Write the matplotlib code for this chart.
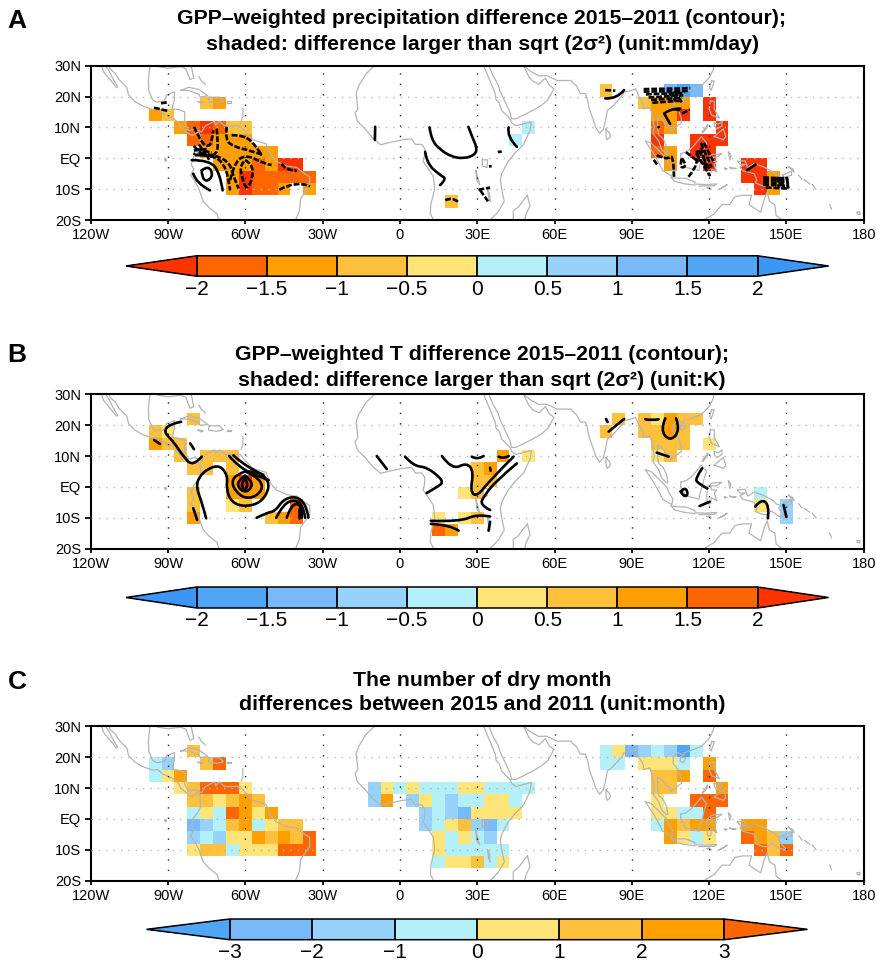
import numpy as np
import matplotlib as mpl
mpl.use('Agg')
import matplotlib.pyplot as plt
from matplotlib.path import Path
from matplotlib.patches import PathPatch
from matplotlib.colors import ListedColormap, BoundaryNorm
from matplotlib.cm import ScalarMappable

plt.rcParams['font.family'] = ['Liberation Sans', 'DejaVu Sans']

W, H = 876, 961

# colour classes, cold to warm end of the NCL style table
warm = ['#ff3300', '#ff6600', '#ff9f00', '#ffc03c', '#ffe578']
cool = ['#b4f0f8', '#96d2fa', '#78b9fa', '#50a5f5', '#3c96f5']

x_ticks = [-120, -90, -60, -30, 0, 30, 60, 90, 120, 150, 180]
x_labels = ['120W', '90W', '60W', '30W', '0', '30E', '60E', '90E', '120E', '150E', '180']
y_ticks = [30, 20, 10, 0, -10, -20]
y_labels = ['30N', '20N', '10N', 'EQ', '10S', '20S']

grid_lons = np.arange(-120, 181, 5)
grid_lats = np.arange(-18, 27, 4)

# (lat, first lon, values going east in 5 degree steps)
cells_a = [
    (22, 80, [-.75]), (22, 105, [1.25, 1.75, 1.25]),
    (18, -75, [-.75, -1.25]), (18, 95, [-.75, -1.25, -1.25, -1.25]), (18, 120, [-2.5]),
    (14, -95, [-1.25, -.75]), (14, 100, [-1.25, -1.25, -2.5]), (14, 120, [-2.5]),
    (10, -85, [-1.25, -1.75, -2.5, -1.75, -.75, -.75]), (10, 50, [.25]),
    (10, 100, [-1.75, -1.25]), (10, 125, [-2.5]),
    (6, -80, [-1.75, -1.75, -1.25, -1.25, -1.25]), (6, 45, [.25]),
    (6, 100, [-2.5]), (6, 115, [-2.5, -2.5, -2.5]),
    (2, -75, [-1.25, -1.25, -1.25, -1.25, -1.25, -1.25]),
    (2, 100, [-1.75, -1.25]), (2, 115, [-2.5, -2.5]),
    (-2, -70, [-1.25, -1.25, -1.25, -1.75, -1.25, -2.5, -2.5]),
    (-2, 105, [-1.25]), (-2, 120, [-2.5]), (-2, 135, [-2.5, -2.5]),
    (-6, -65, [-1.25, -2.5, -1.75, -1.75, -1.75, -1.75, -1.75]),
    (-6, 135, [-2.5, -2.5, -1.25]),
    (-10, -65, [-1.25, -2.5, -1.75, -1.75, -1.25]), (-10, -35, [-1.25]),
    (-10, 140, [-2.5, -1.25]),
    (-14, 20, [-.75]),
]

cells_b = [
    (22, -80, [.75]), (22, 85, [.75]), (22, 95, [.75, .25, 1.25, .75, .75]),
    (18, -95, [.75, .25]), (18, 80, [.75]), (18, 95, [.75, .75, 1.25, .75]),
    (14, -95, [1.25, .75, .75]), (14, 100, [.75, .75, .75]), (14, 120, [.25]),
    (10, -85, [.75]), (10, -75, [.75, .75, .75]), (10, 40, [1.25]), (10, 50, [.25]),
    (10, 100, [.25, .75]),
    (6, -80, [.75, .75]), (6, -65, [.75]), (6, 30, [.75, 1.25]),
    (2, -65, [1.25, 2.5, 1.25]), (2, 30, [.75, .75]),
    (-2, -80, [.75]), (-2, -65, [1.25, 1.25, 1.25]), (-2, 25, [.25, .75]),
    (-2, 140, [-.25]),
    (-6, -80, [.75]), (-6, -65, [.25, .75]), (-6, -40, [1.75]),
    (-6, 140, [.25]), (-6, 150, [-.75]),
    (-10, -80, [1.25]), (-10, -50, [.75, 1.25, 1.75]), (-10, 15, [.25]),
    (-10, 25, [.25, .75]), (-10, 150, [-.75]),
    (-14, 15, [1.75, 1.25]),
]

cells_c = [
    (22, -80, [1.5]),
    (22, 80, [-.5, .5, -2.5, -1.5, -.5, -1.5, -3.5, -.5]),
    (18, -95, [-.5, -1.5]), (18, -75, [1.5, 3.5]),
    (18, 80, [-.5, -.5]), (18, 95, [.5, .5, .5, -.5]), (18, 120, [2.5]),
    (14, -95, [-.5, .5, 2.5]), (14, 100, [1.5, 1.5, 2.5]), (14, 120, [3.5]),
    (10, -85, [.5, 1.5, 3.5, 3.5, 3.5, .5]),
    (10, -10, [-1.5, .5, -.5, .5, -.5, -.5, -.5, .5, .5, -.5, -.5, -.5, -.5]),
    (10, 100, [1.5, 1.5]), (10, 125, [2.5]),
    (6, -80, [1.5, 1.5, .5, 1.5, 2.5, 1.5]),
    (6, -10, [-1.5, 2.5]), (6, 5, [-1.5, .5, -.5, -1.5, -.5, -.5, .5, .5, -.5]),
    (6, 100, [.5]), (6, 115, [3.5, 3.5, 3.5]),
    (2, -80, [-.5, .5, -.5, 3.5, 2.5, .5, 2.5]),
    (2, 10, [-1.5, -.5, -1.5, -2.5, .5, .5, .5, .5]),
    (2, 100, [.5, .5, -.5, -.5]), (2, 120, [3.5]),
    (-2, -80, [-2.5, -1.5, -.5, 1.5, 2.5, -.5, .5, 1.5, 1.5]),
    (-2, 10, [-1.5, -.5, .5, 1.5, -1.5, -2.5, -.5]),
    (-2, 100, [-.5, 2.5, 1.5, 2.5, 2.5]), (-2, 135, [2.5, 2.5]),
    (-6, -80, [-1.5, -.5, -1.5, .5, .5, 2.5, 1.5, 2.5, 1.5, 3.5]),
    (-6, 15, [.5, -.5, .5, -.5, -1.5]),
    (-6, 105, [2.5, .5, -.5, .5]), (-6, 135, [3.5, 2.5, 1.5, -1.5]),
    (-10, -80, [.5, 1.5, 1.5, -.5, .5, .5, .5, 3.5, 3.5, 3.5]),
    (-10, 15, [.5, -.5, -.5, -.5, -.5, -.5]),
    (-10, 140, [3.5, 1.5, 3.5]),
    (-14, 15, [-.5, .5, .5, 1.5, -.5, .5]),
]

# coastlines, lon/lat
coast_baja = [(-116, 30.5), (-115, 28), (-114, 27), (-112, 25), (-110, 22.9), (-109.5, 23.2),
              (-110.5, 24.5), (-111.5, 26), (-113, 28.5), (-114.7, 30.5)]
coast_pacific = [(-113, 31.5), (-112.5, 29), (-110.5, 27.5), (-109, 25.5), (-106, 23), (-105.3, 20.5),
                 (-103, 18.5), (-100, 17), (-96, 15.8), (-94, 16), (-92, 14.5), (-90, 13.8), (-88, 13),
                 (-86, 11.5), (-85, 10), (-83, 8.5), (-81, 7.5), (-80, 7.5), (-78.5, 8.5), (-77.5, 7.5),
                 (-77.5, 6), (-77.3, 4), (-78.5, 2), (-80, 0.5), (-81, -2), (-80, -3.5), (-81.2, -5.5),
                 (-79.5, -7.5), (-78, -10), (-76.3, -14), (-74, -16), (-71, -18), (-70.2, -20)]
coast_atlantic = [(-97, 30), (-97.6, 25.5), (-97.5, 22), (-96, 19), (-94.5, 18.2), (-91.5, 18.5),
                  (-90.5, 20.5), (-87.5, 21.5), (-87.5, 19), (-88.5, 16), (-86, 15.8), (-83.5, 15),
                  (-83.5, 11), (-82, 9), (-79.5, 9.5), (-77, 8.5), (-75.5, 10.5), (-72, 12), (-71.5, 10.8),
                  (-70, 12), (-68, 10.5), (-64, 10.5), (-62, 10.5), (-60, 8.5), (-57, 6), (-52, 4.7),
                  (-50, 1), (-48, -1), (-44, -2.5), (-40, -3), (-37, -5), (-35, -6), (-35, -9),
                  (-38.5, -13), (-39, -17), (-40.5, -20)]
coast_florida = [(-94, 29.7), (-90, 29.2), (-85, 29.7), (-83, 29), (-81.5, 25.5), (-80, 26), (-81, 30)]
coast_cuba = [(-85, 22), (-82, 23), (-78, 22.3), (-74.5, 20.2), (-77.5, 19.9), (-78, 20.7), (-82, 22), (-85, 22)]
coast_hispaniola = [(-74, 19.8), (-70, 19.8), (-68.5, 18.5), (-71, 18), (-74.3, 18.4), (-74, 19.8)]
coast_jamaica = [(-78.3, 18.4), (-76.3, 18.2), (-77, 17.8), (-78.3, 18.4)]
coast_puerto = [(-67, 18.4), (-65.7, 18.4), (-65.7, 18), (-67, 18), (-67, 18.4)]
coast_antilles = [(-61, 16.3), (-60.9, 15), (-61, 13.5), (-61.6, 12.2)]
coast_bahamas = [(-78, 26.5), (-77, 25), (-75.5, 24)]
coast_galapagos = [(-91.3, -0.3), (-91, -1), (-90.5, -0.6), (-91.3, -0.3)]
coast_west_africa = [(-9.8, 30), (-13, 27.5), (-16, 23.5), (-17, 21), (-16.3, 16), (-17.4, 14.7), (-16.5, 12),
                     (-13.5, 9.5), (-10.5, 6.5), (-7.5, 4.4), (-3.5, 5.2), (1, 6), (4.5, 6.3), (6, 4.5),
                     (8.5, 4.5), (9.7, 3), (9.5, 0.5), (9, -1), (11.5, -4), (13, -6), (13.5, -10), (12, -15),
                     (11.8, -18), (14.5, -22)]
coast_east_africa = [(32.5, 30), (34, 27), (35.5, 24), (37, 21), (37.3, 19), (38.5, 18), (39.5, 15.5), (43, 12.5),
                     (43.3, 11.5), (45, 10.5), (51, 11.8), (50.5, 9), (48, 4.5), (45, 2), (42, -1), (39.5, -5),
                     (39, -7), (39.5, -10), (40.5, -14), (38, -17.5), (35, -20), (35, -22)]
coast_arabia = [(34.8, 29.5), (36, 27), (38, 24), (39, 21.5), (41, 18), (42.7, 15), (43.3, 12.8), (45, 12.8),
                (48, 14), (52, 15.7), (55, 17.2), (57.5, 19), (59.8, 22.5), (58, 23.7), (56.4, 26), (54, 24),
                (51.5, 25), (50, 26.5), (48, 30)]
coast_asia = [(48, 30), (51, 28), (54, 26.7), (57, 26.8), (61, 25.2), (66.5, 25.2), (67, 24.5), (68.5, 23.5),
              (70, 21), (72, 21), (72.8, 19), (73.5, 16), (74.8, 13), (76, 10), (77.5, 8), (79, 9.5), (80, 13),
              (80.5, 15.5), (82.5, 16.8), (86, 20), (87, 21.5), (89, 21.8), (91.5, 22.5), (92.5, 20.5),
              (94.5, 17.5), (94.5, 16), (97, 16.5), (98, 14), (98.7, 10), (98.3, 8), (100.5, 5.5), (101.5, 3),
              (103.5, 1.3), (104, 1.5), (103.5, 4), (102, 6.5), (100.5, 7.5), (100, 9.5), (100, 13.5),
              (102, 12.5), (103, 11), (105, 10), (105, 8.7), (106.5, 9.7), (109.2, 11.5), (109.2, 13),
              (108, 16), (106, 18), (106, 20), (108, 21.5), (110, 20.5), (110.5, 21.5), (114, 22.5),
              (117, 23.5), (120, 26), (121.5, 28.5), (122, 30)]
coast_srilanka = [(80, 9.5), (81.5, 8), (81.7, 7), (80.5, 6), (80, 7), (80, 9.5)]
coast_hainan = [(109, 20), (111, 19.8), (110, 18.3), (108.7, 18.7), (109, 20)]
coast_taiwan = [(121, 25), (122, 25), (120.8, 22), (120.2, 23), (121, 25)]
coast_luzon = [(120.5, 18.5), (122, 18.5), (122, 16), (124, 13), (121, 14), (120, 16), (120.5, 18.5)]
coast_mindanao = [(122, 7), (124, 8.5), (125.5, 9.5), (126.5, 7), (125.5, 6), (124, 6.5), (122, 7)]
coast_visayas = [(122, 11.5), (123.5, 11), (125, 12), (125, 10.5), (123, 9.5), (122, 10.5), (122, 11.5)]
coast_palawan = [(117.3, 8.5), (119.5, 11), (119.3, 10), (117.6, 8.3)]
coast_borneo = [(109, 1.5), (111, 2), (113, 3.2), (115, 5), (117, 7), (119, 5), (118, 2.5), (117.5, 0.5),
                (116.5, -2), (116, -4), (114, -3.5), (111, -3), (110, -1.5), (109, 0), (109, 1.5)]
coast_sumatra = [(95.3, 5.5), (97.5, 5), (100.5, 2.5), (103.5, 0), (104.5, -2), (106, -4), (105.5, -5.8), (104, -5),
                 (102, -4), (100.5, -1.5), (98.5, 1.5), (95.3, 5.5)]
coast_java = [(105.3, -6.2), (108.5, -6.5), (111, -6.5), (114.5, -7.7), (114.5, -8.7), (110, -8.2), (106.5, -7.4),
              (105.3, -6.2)]
coast_sulawesi = [(119.5, 0), (121, 1.2), (125, 1.5), (123, 0.4), (120.5, 0.3), (121, -1), (123, -1), (122, -2),
                  (123, -4.5), (121, -3.5), (120.5, -5.5), (119.5, -5.5), (119, -3), (119.5, 0)]
coast_sundas = [(115, -8.4), (119, -8.5), (123, -8.3), (122, -8.9), (116, -9)]
coast_timor = [(124, -10), (127, -8.5), (125.5, -9.5), (124, -10)]
coast_sumba = [(119.3, -9.6), (120.8, -10), (120, -9.4), (119.3, -9.6)]
coast_halmahera = [(127.5, 2), (128.5, 1), (128, -0.5), (127.7, 1), (127.5, 2)]
coast_seram = [(128, -3), (130.5, -3.3), (129, -3.4), (128, -3)]
coast_buru = [(126, -3.2), (127, -3.4), (126.3, -3.7), (126, -3.2)]
coast_guinea = [(131, -1), (134, -0.8), (135, -3), (137.5, -1.7), (141, -2.7), (145, -4.5), (146, -5.5), (147.8, -6),
                (147, -7), (150, -10), (147, -9.5), (144, -7.7), (143, -9), (141, -9), (138, -8), (138.5, -7),
                (137.5, -5), (133, -4), (132, -2.8), (134, -2), (132, -2), (131, -1)]
coast_britain = [(148.5, -5.5), (152, -4.2), (152, -5.5), (149, -6.2), (148.5, -5.5)]
coast_ireland = [(150.8, -2.7), (153, -4.5), (152.5, -3.5), (150.8, -2.7)]
coast_bougainville = [(154.8, -5.5), (156, -6.8)]
coast_solomon1 = [(157, -7), (159, -8.2)]
coast_solomon2 = [(160, -8.5), (161.5, -10)]
coast_vanuatu = [(166.8, -15), (167.5, -16.5)]
coast_fiji = [(177.5, -17.5), (178.5, -17.3), (178.5, -18.2), (177.5, -18), (177.5, -17.5)]
coast_australia = [(114, -22), (118, -20), (122, -18), (125, -15), (128, -15), (130, -12.5), (133, -12),
                   (136.5, -12), (135.5, -15), (140, -17.5), (141.5, -13), (142.5, -11), (143.5, -14),
                   (145.5, -15), (146, -18.5), (149, -20.5)]
coast_madagascar = [(49.5, -12), (50.5, -15.5), (49, -18), (47.5, -23), (44, -23), (44, -17), (46, -15.8), (48, -13.5),
                    (49.5, -12)]
coast_victoria = [(32, -0.5), (34, -0.5), (33.8, -3), (32, -2.5), (32, -0.5)]
coast_tanganyika = [(29.5, -4), (29.8, -7), (31, -8.5), (30.3, -6.5), (29.5, -4)]
coast_malawi = [(34, -10), (34.5, -13), (35, -14), (34.8, -11.5), (34, -10)]

coast_lines = [coast_baja, coast_pacific, coast_atlantic, coast_florida, coast_cuba, coast_hispaniola, coast_jamaica,
               coast_puerto, coast_antilles, coast_bahamas, coast_galapagos, coast_west_africa, coast_east_africa,
               coast_arabia, coast_asia, coast_srilanka, coast_hainan, coast_taiwan, coast_luzon, coast_mindanao,
               coast_visayas, coast_palawan, coast_borneo, coast_sumatra, coast_java, coast_sulawesi, coast_sundas,
               coast_timor, coast_sumba, coast_halmahera, coast_seram, coast_buru, coast_guinea, coast_britain,
               coast_ireland, coast_bougainville, coast_solomon1, coast_solomon2, coast_vanuatu, coast_fiji,
               coast_australia, coast_madagascar, coast_victoria, coast_tanganyika, coast_malawi]

# contours, lon/lat
solid_a = [
    [(-9.6, 10.2), (-9.7, 5.9)],
    [(11.5, 10), (12.2, 6), (15.6, 2.8), (20, 0.5), (24.7, -0.1), (29, 1), (30, 3.2), (28, 7), (26.6, 10.2)],
    [(9.8, 2.1), (10.5, -1.7), (15.6, -5.5), (18.2, -6.6), (15.6, -8.7)],
    [(42.2, 10), (41.5, 7), (45.4, 3.7)],
    [(79.7, 19.4), (84.2, 19.2), (87, 22.1)],
    [(-76.9, -3.9), (-74.3, -2.3), (-72.4, -5.5), (-75, -7.7), (-76.9, -6), (-76.9, -3.9)],
    [(-80.2, -5), (-78.9, -8.2), (-73.7, -10.4)],
    [(-80.8, -0.6), (-73.7, -0.6), (-69.8, -5), (-68.8, -10.4)],
    [(102.6, 14.5), (104.9, 11.1)],
    [(108.8, 16.1), (104.9, 16.1), (102.6, 14.5)],
    [(134.7, -3.9), (138, -2)],
]
dashed_a = [
    [(-95.4, 16.4), (-89.9, 15.3)],
    [(-92.7, 17.8), (-89.9, 18.2)],
    [(-79.9, 10.2), (-77.6, 5.9), (-75, 3.7), (-73, 4.8), (-72.4, 9.1)],
    [(-71.1, 9.6), (-70.5, 4.8), (-71.1, 1.5), (-74.3, 0.5), (-80.2, 1.5)],
    [(-67.2, 10.2), (-67.9, 5.9), (-64, 3.6), (-58, 2.5), (-53, 1)],
    [(-65.3, 7.5), (-60.1, 7.5), (-55.6, 3.7), (-53.6, 1)],
    [(-79.5, 1), (-72.4, 1), (-68.5, -1.7), (-66.6, -6), (-65.9, -10.4)],
    [(-77.5, 1.6), (-71, 1), (-65.9, -1.7), (-64.6, -6), (-62.6, -9.8)],
    [(-65.9, -7.1), (-64, -0.6), (-58.8, 1), (-53, -1.7), (-49.8, -2.2)],
    [(-60.1, -0.6), (-57.5, -1.7), (-56.9, -6), (-59.5, -10.4), (-61.4, -6), (-62, -2.2), (-60.1, -0.6)],
    [(-45.9, -1.7), (-44.6, -3.9), (-40, -4.1)],
    [(-46.8, -10.2), (-40, -7.1), (-34.9, -9.1)],
    [(-80, 4), (-76, 0.5)], [(-79, 3), (-73, 1.8)], [(-80, 2.5), (-75, 3)], [(-78, 4.5), (-74, -0.5)],
    [(38, 2), (39.5, 2.2)], [(35, -2.2), (35.2, -3)],
    [(31.2, -10.4), (34.4, -14.2)], [(30.5, -10.2), (35, -9.5)],
    [(17.6, -13.6), (20.2, -12.5), (22.8, -14.2)],
    [(79.7, 22.1), (83.6, 21.9)],
    [(94.6, 22.4), (112.7, 22.7)], [(94.6, 21.6), (112, 21.8)], [(95.5, 20.7), (110.5, 21.2)],
    [(96.5, 19.7), (110, 20.4)], [(97.5, 18.9), (109.5, 19.6)], [(98, 18), (109.8, 18.7)],
    [(106.5, 21.8), (109.5, 18)], [(104.5, 21.5), (107, 18.5)],
    [(109.5, 14.5), (112.5, 15.8)], [(106.5, 16), (109.5, 15.4)],
    [(100.2, 10.4), (100.6, 9.8)],
    [(99.7, 1), (103.6, -0.6), (106.2, 1.5), (106.4, -6)],
    [(98.5, -0.5), (100, -2.2)],
    [(109.4, 0), (111.4, -2.2), (109.4, -3.3), (108.8, -1.7), (109.4, 0)],
    [(112, -6), (116.5, -1.7), (115.2, 2.6)],
    [(111, 2), (116, -1.2)], [(115, 1.7), (120.4, -5.8)], [(116, 2.6), (120.5, -4)],
    [(116.8, 5), (121, -3)], [(118, 5), (121.6, -1)], [(117, 3.5), (119, -3.5)], [(115.5, 0), (118.5, -2)],
    [(141, -6.2), (150.8, -6.6)], [(141, -7), (150.8, -7.2)], [(141, -7.8), (151, -8)],
    [(141, -8.6), (150.8, -8.8)], [(142, -9.5), (151, -9.8)],
    [(146.5, -6), (147, -9.8)], [(148.5, -6), (149, -9.8)], [(150, -6), (150.8, -9.8)],
]

solid_b = [
    [(-84.9, 21.1), (-89.2, 20.4), (-91.8, 17.9), (-87.9, 14.7), (-84, 9.8), (-80.2, 6.6), (-76.9, 9.8)],
    [(-95.4, 15.2), (-93.1, 13.9)],
    [(-81.4, 14.1), (-79.9, 12.2)],
    [(-75.2, -10.2), (-76.7, -5.4), (-79.1, 0), (-77.9, 3.3), (-74.4, 6), (-69.8, 7), (-66.8, 3.6), (-67.4, -0.6),
     (-65.4, -5), (-60.1, -6.5), (-53.7, -5), (-50.4, 0), (-52.4, 3.6), (-56.2, 5), (-59.4, 5)],
    [(-60.1, 5), (-55.6, 3.4), (-52.9, 0), (-55.6, -3), (-60.1, -3.8), (-64, -1.3), (-65.3, 1.8), (-63.3, 4),
     (-60.1, 5)],
    [(-60.1, 3.6), (-57.5, 2), (-57.5, -0.3), (-60.1, -1.9), (-63, 0), (-62.6, 2.2), (-60.1, 3.6)],
    [(-60.1, 2.8), (-58.8, 0.9), (-60.1, -1.3), (-61.8, 0.9), (-60.1, 2.8)],
    [(-80.2, -6.9), (-78.7, -10.7)],
    [(-66.3, 10), (-62, 6), (-54.3, 3.3), (-51, 2.2)],
    [(-64.6, 10.2), (-59.5, 6.3), (-53, 3.9)],
    [(-55.6, -10), (-51.7, -8.4), (-48.4, -7.9), (-45.2, -4), (-40, -3), (-36.2, -6.1), (-35.5, -10)],
    [(-48, -10), (-45.2, -5.5), (-40.7, -4.1), (-37.5, -6.1), (-36.8, -10)],
    [(-43.9, -10), (-42.6, -6.7), (-40, -5.2), (-38.1, -6.7), (-38.1, -10)],
    [(-39.2, -10), (-39.2, -7.2)],
    [(-9, 10), (-5.1, 5.8)],
    [(2, 9.8), (5.2, 6.8), (10.4, 6.4), (15.6, 3), (16.5, 1.5), (15.6, 0.5), (10.4, -2)],
    [(16.3, 10), (20.2, 5.5), (26, 7.9), (28.6, 4.9), (27.3, -1.5), (29.9, -3.2), (35, 2.2), (44.1, 9.8)],
    [(45.4, 7.6), (37.6, 2.2), (32.4, -3.2), (31.2, -5.9), (35, -7.5)],
    [(27.9, 9.8), (29.9, 8.7), (32.5, 10)],
    [(38.3, 9.8), (40, 9), (42.2, 10)],
    [(35, 6.2), (35.2, 5.2)],
    [(12, -11), (23.4, -11.3), (29.9, -8.8), (35, -9.6)],
    [(12, -12), (19.5, -12.3), (22.8, -14.2)],
    [(35, -11.3), (34.4, -14.2)],
    [(80, 22), (80.6, 21)],
    [(81, 17.9), (87, 22)],
    [(95.2, 21.9), (97.8, 21.5), (100.4, 21.9)],
    [(103, 22.2), (101, 18.4), (104.9, 14.7), (108.8, 18.4), (107.2, 22.2)],
    [(99.7, 11.1), (104.3, 9.8)],
    [(109, -1.5), (110.7, 0.1), (112, -2.6), (110, -3.2), (109, -1.5)],
    [(117.3, 6), (114.7, 2.8), (115.5, 1.2), (119.3, -0.5)],
    [(116.3, -6.2), (120.2, -4.8)],
    [(137.9, -6.4), (140.2, -3.9), (143.4, -5.9), (142.8, -10.2)],
    [(148.9, -5.9), (150, -9.7)],
]

titles_a = ['GPP\u2013weighted precipitation difference 2015\u20132011 (contour);',
            'shaded: difference larger than sqrt (2\u03c3\u00b2) (unit:mm/day)']
titles_b = ['GPP\u2013weighted T difference 2015\u20132011 (contour);',
            'shaded: difference larger than sqrt (2\u03c3\u00b2) (unit:K)']
titles_c = ['The number of dry month',
            'differences between 2015 and 2011 (unit:month)']

levels_ab = [-2, -1.5, -1, -0.5, 0, 0.5, 1, 1.5, 2]
labels_ab = ['\u22122', '\u22121.5', '\u22121', '\u22120.5', '0', '0.5', '1', '1.5', '2']
levels_c = [-3, -2, -1, 0, 1, 2, 3]
labels_c = ['\u22123', '\u22122', '\u22121', '0', '1', '2', '3']


def px_axes(left, top, right, bottom):
    return fig.add_axes([left / W, 1 - bottom / H, (right - left) / W, (bottom - top) / H])


def to_grid(cells):
    z = np.full((len(grid_lats), len(grid_lons)), np.nan)
    for lat, lon0, values in cells:
        for k, v in enumerate(values):
            z[np.searchsorted(grid_lats, lat), np.searchsorted(grid_lons, lon0 + 5 * k)] = v
    return z


def curve(ax, pts, dashed=False):
    pts = np.array(pts, dtype=float)
    verts = [pts[0]]
    codes = [Path.MOVETO]
    for i in range(1, len(pts) - 1):
        end = pts[i + 1] if i == len(pts) - 2 else (pts[i] + pts[i + 1]) / 2
        verts += [pts[i], end]
        codes += [Path.CURVE3, Path.CURVE3]
    if len(pts) == 2:
        verts.append(pts[1])
        codes.append(Path.LINETO)
    ls = (0, (2.2, 0.7)) if dashed else '-'
    cap = 'butt' if dashed else 'round'
    ax.add_patch(PathPatch(Path(verts, codes), fill=False, ec='k', lw=1.9, ls=ls, capstyle=cap,
                           joinstyle='round', zorder=5))


def map_panel(top, cells, cmap, norm, solid=(), dashed=()):
    ax = px_axes(90.7, top, 863.7, top + 154.3)
    ax.pcolormesh(grid_lons, grid_lats, np.ma.masked_invalid(to_grid(cells)), cmap=cmap, norm=norm,
                  shading='nearest', zorder=1)
    for line in coast_lines:
        xy = np.array(line)
        ax.plot(xy[:, 0], xy[:, 1], color='#b4b4b4', lw=0.9, zorder=2)
    for lat in y_ticks[1:-1]:
        ax.axhline(lat, color='#b8b8b8', lw=1.0, ls=(0, (1, 4.3)), zorder=3)
    for lon in x_ticks[1:-1]:
        ax.axvline(lon, color='#222222', lw=1.0, ls=(0, (1, 6.5)), zorder=3)
    for line in solid:
        curve(ax, line)
    for line in dashed:
        curve(ax, line, dashed=True)
    ax.set_xlim(-120, 180)
    ax.set_ylim(-20, 30)
    ax.set_xticks(x_ticks, x_labels)
    ax.set_yticks(y_ticks, y_labels)
    ax.tick_params(axis='x', length=3, width=1.3, labelsize=10.5, pad=3)
    ax.tick_params(axis='y', length=4.5, width=1.3, labelsize=10.5, pad=2.5)
    for s in ax.spines.values():
        s.set_linewidth(1.5)
    return ax


def color_bar(tip_l, tip_r, box_l, box_r, top, bottom, cmap, norm, levels, labels):
    # matplotlib puts the extend triangles inside cax, so the axes spans tip to tip
    cax = px_axes(tip_l, top, tip_r, bottom)
    cb = fig.colorbar(ScalarMappable(norm=norm, cmap=cmap), cax=cax, orientation='horizontal', extend='both',
                      extendfrac=(box_l - tip_l) / (box_r - box_l), spacing='uniform', drawedges=True)
    cb.set_ticks(levels, labels=labels)
    cb.ax.tick_params(length=0, labelsize=15, pad=2.5)
    cb.outline.set_linewidth(1.1)
    cb.dividers.set_linewidth(1.3)
    return cb


def make_cmap(colors):
    return ListedColormap(colors[1:-1]).with_extremes(under=colors[0], over=colors[-1])


def titles(lines, y1, y2):
    fig.text(482 / W, 1 - y1 / H, lines[0], ha='center', va='center', fontweight='bold', fontsize=15.3)
    fig.text(482 / W, 1 - y2 / H, lines[1], ha='center', va='center', fontweight='bold', fontsize=15.3)


fig = plt.figure(figsize=(W / 100, H / 100), dpi=100)

colors_a = warm + cool
cmap_a = make_cmap(colors_a)
norm_a = BoundaryNorm(levels_ab, 8)
colors_b = cool[::-1] + warm[::-1]
cmap_b = make_cmap(colors_b)
colors_c = [cool[3], cool[2], cool[1], cool[0], warm[4], warm[3], warm[2], warm[1]]
cmap_c = make_cmap(colors_c)
norm_c = BoundaryNorm(levels_c, 6)

map_panel(65.7, cells_a, cmap_a, norm_a, solid_a, dashed_a)
map_panel(394.3, cells_b, cmap_b, norm_a, solid_b)
map_panel(726.3, cells_c, cmap_c, norm_c)

color_bar(126, 828.3, 196.7, 757.3, 255.8, 276.2, cmap_a, norm_a, levels_ab, labels_ab)
color_bar(126, 828.3, 196.7, 757.3, 587, 608, cmap_b, norm_a, levels_ab, labels_ab)
color_bar(146.7, 807.3, 229.7, 724.3, 919, 939.7, cmap_c, norm_c, levels_c, labels_c)

titles(titles_a, 18, 44)
titles(titles_b, 355, 380)
titles(titles_c, 680, 705)

for letter, x, y in [('A', 17, 21), ('B', 17, 355), ('C', 17, 682)]:
    fig.text(x / W, 1 - y / H, letter, ha='center', va='center', fontweight='bold', fontsize=19)

fig.savefig('out.png', dpi=100)
